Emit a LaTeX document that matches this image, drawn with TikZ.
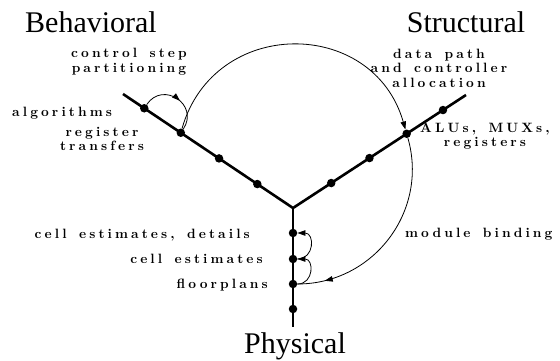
\documentclass[tikz,border=0pt]{standalone}
\usepackage{fontspec}
\setmainfont{Latin Modern Roman}
\newfontfamily\titlefont{Liberation Serif}
\newfontfamily\lblfont{lmroman10-bold}[Extension=.otf,LetterSpace=23,WordSpace=1.5]
\usetikzlibrary{arrows.meta,calc,decorations.markings}
\begin{document}
\begin{tikzpicture}[x=1pt,y=1pt,
  axis/.style={line width=2.6pt},
  dot/.style={circle,fill=black,inner sep=0pt,minimum size=8.5pt},
  flow/.style={line width=0.8pt},
  tip/.style={-{Triangle[length=8pt,width=5.5pt]}},
  midtip/.style={postaction={decorate},decoration={markings,mark=at position #1 with {\arrow{Triangle[length=8pt,width=5.5pt]}}}},
  title/.style={font=\titlefont\fontsize{30}{30}\selectfont,inner sep=0pt,anchor=base},
  lbl/.style={font=\lblfont\fontsize{13.5}{14.5}\selectfont,inner sep=0pt,align=center},
]
\useasboundingbox (0,0) rectangle (560,360);
% axes
\coordinate (O) at (293,152);
\coordinate (B) at (123,266);
\coordinate (S) at (466,265);
\coordinate (P) at (293,33);
\draw[axis] (B) -- (O) -- (S);
\draw[axis] (O) -- (P);
% dots
\node[dot] (b1) at ($(O)!0.21!(B)$) {};
\node[dot] (b2) at ($(O)!0.435!(B)$) {};
\node[dot] (b3) at ($(O)!0.66!(B)$) {};
\node[dot] (b4) at ($(O)!0.875!(B)$) {};
\node[dot] (s1) at ($(O)!0.221!(S)$) {};
\node[dot] (s2) at ($(O)!0.442!(S)$) {};
\node[dot] (s3) at ($(O)!0.657!(S)$) {};
\node[dot] (s4) at ($(O)!0.867!(S)$) {};
\node[dot] (p1) at (293,127) {};
\node[dot] (p2) at (293,101) {};
\node[dot] (p3) at (293,76) {};
\node[dot] (p4) at (293,51) {};
% arcs
\draw[flow,midtip=0.55] (b4) to[bend left=90,looseness=1.7] (b3);
\draw[flow,tip] (b3) to[out=74,in=106,looseness=1.335] (s3);
\draw[flow,midtip=0.87] (s3) to[out=-74,in=0,looseness=1.06] (p3);
\draw[flow,tip] (p2) to[bend right=90,looseness=1.7] (p1);
\draw[flow,tip] (p3) to[bend right=90,looseness=1.7] (p2);
% titles
\node[title] (tb) at (91,328) {Behavioral};
\node[title] (ts) at (466,328) {Structural};
\node[title] (tp) at (295,7) {Physical};
% labels (base = baseline of last line)
\node[lbl,anchor=base] (l1) at (129,288) {control step\\partitioning};
\node[lbl,anchor=base west] (l2) at (12,244) {algorithms};
\node[lbl,anchor=base] (l3) at (102,209.5) {register\\transfers};
\node[lbl,anchor=base] (l4) at (439,273) {data path\\and controller\\allocation};
\node[lbl,anchor=base] (l5) at (485,213.5) {ALUs, MUXs,\\registers};
\node[lbl,anchor=base west] (l6) at (405,123) {module binding};
\node[lbl,anchor=base east] (l7) at (250,122) {cell estimates, details};
\node[lbl,anchor=base east] (l8) at (263,97) {cell estimates};
\node[lbl,anchor=base east] (l9) at (268,72) {floorplans};
\end{tikzpicture}
\end{document}
